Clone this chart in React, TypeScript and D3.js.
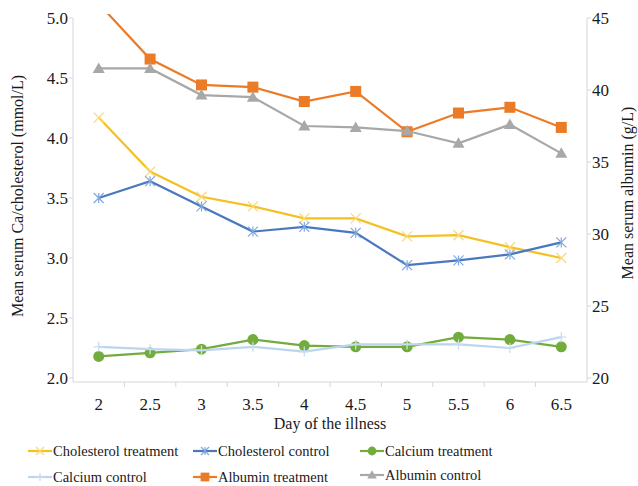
import React, { useEffect, useRef } from 'react';
import * as d3 from 'd3';

const days = ['2', '2.5', '3', '3.5', '4', '4.5', '5', '5.5', '6', '6.5'];
const cholTreatment = [4.17, 3.72, 3.51, 3.43, 3.33, 3.33, 3.18, 3.19, 3.09, 3.0];
const cholControl = [3.5, 3.64, 3.43, 3.22, 3.26, 3.21, 2.94, 2.98, 3.03, 3.13];
const caTreatment = [2.18, 2.21, 2.24, 2.32, 2.27, 2.26, 2.26, 2.34, 2.32, 2.26];
const caControl = [2.26, 2.24, 2.23, 2.26, 2.22, 2.28, 2.28, 2.28, 2.25, 2.34];
const albTreatment = [46.0, 42.15, 40.35, 40.2, 39.2, 39.9, 37.1, 38.4, 38.8, 37.4];
const albControl = [41.5, 41.5, 39.65, 39.5, 37.5, 37.4, 37.15, 36.3, 37.6, 35.6];
const leftTicks = [2.0, 2.5, 3.0, 3.5, 4.0, 4.5, 5.0];
const rightTicks = [20, 25, 30, 35, 40, 45];

type Series = { name: string; values: number[]; color: string; marker: string; axis: 'l' | 'r' };

const series: Series[] = [
  { name: 'Cholesterol treatment', values: cholTreatment, color: '#f5c022', marker: 'x', axis: 'l' },
  { name: 'Cholesterol control', values: cholControl, color: '#4a78bf', marker: 'star', axis: 'l' },
  { name: 'Calcium treatment', values: caTreatment, color: '#72ac3c', marker: 'circle', axis: 'l' },
  { name: 'Calcium control', values: caControl, color: '#bcd4ee', marker: 'plus', axis: 'l' },
  { name: 'Albumin treatment', values: albTreatment, color: '#ec7b27', marker: 'square', axis: 'r' },
  { name: 'Albumin control', values: albControl, color: '#a8a8a8', marker: 'triangle', axis: 'r' },
];

const legendPos = [
  [28, 451], [193, 451], [360, 451],
  [28, 477], [193, 477], [360, 475],
];

const FONT = 'Liberation Serif, Times New Roman, DejaVu Serif, serif';

function drawMarker(g: any, kind: string, x: number, y: number, color: string, small = false) {
  const s = small ? 0.8 : 1;
  if (kind === 'x') {
    const d = 5 * s;
    g.append('path').attr('d', `M${x - d},${y - d}L${x + d},${y + d}M${x - d},${y + d}L${x + d},${y - d}`)
      .attr('stroke', '#f8d97a').attr('stroke-width', 1.3);
  } else if (kind === 'star') {
    const d = 5 * s;
    g.append('path').attr('d', `M${x - d},${y - d}L${x + d},${y + d}M${x - d},${y + d}L${x + d},${y - d}M${x},${y - d}L${x},${y + d}`)
      .attr('stroke', '#7fa7e0').attr('stroke-width', 1.2);
  } else if (kind === 'circle') {
    g.append('circle').attr('cx', x).attr('cy', y).attr('r', 5.5 * s).attr('fill', color);
  } else if (kind === 'plus') {
    const d = 5 * s;
    g.append('path').attr('d', `M${x - d},${y}L${x + d},${y}M${x},${y - d}L${x},${y + d}`)
      .attr('stroke', '#c9dcf1').attr('stroke-width', 1.3);
  } else if (kind === 'square') {
    const d = 5.5 * s;
    g.append('rect').attr('x', x - d).attr('y', y - d).attr('width', 2 * d).attr('height', 2 * d).attr('fill', color);
  } else if (kind === 'triangle') {
    const d = 6 * s;
    g.append('path').attr('d', `M${x},${y - d}L${x + d},${y + d * 0.75}L${x - d},${y + d * 0.75}Z`).attr('fill', color);
  }
}

export default function App() {
  const ref = useRef<SVGSVGElement>(null);

  useEffect(() => {
    const svg = d3.select(ref.current);
    svg.selectAll('*').remove();

    const left = 73, right = 587, top = 18, bottom = 378;

    const x = d3.scaleBand().domain(days).range([left, right]);
    const yL = d3.scaleLinear().domain([2, 5]).range([bottom, top]);
    const yR = d3.scaleLinear().domain([20, 45]).range([bottom, top]);
    const cx = (d: string) => (x(d) as number) + x.bandwidth() / 2;

    svg.append('defs').append('clipPath').attr('id', 'plotclip')
      .append('rect').attr('x', left).attr('y', 14).attr('width', right - left).attr('height', bottom - 14 + 10);

    const txt = (sel: any, size: number) => sel.style('font-family', FONT).attr('font-size', size).attr('fill', '#1a1a1a');

    // axes lines
    const axisColor = '#d6d6d6';
    svg.append('line').attr('x1', left).attr('x2', left).attr('y1', top).attr('y2', bottom + 4).attr('stroke', axisColor);
    svg.append('line').attr('x1', right).attr('x2', right).attr('y1', top).attr('y2', bottom + 4).attr('stroke', axisColor);
    svg.append('line').attr('x1', left).attr('x2', right).attr('y1', bottom + 4).attr('y2', bottom + 4).attr('stroke', axisColor);

    // x ticks at band boundaries
    days.forEach((d, i) => {
      if (i === 0) return;
      const bx = x(d) as number;
      svg.append('line').attr('x1', bx).attr('x2', bx).attr('y1', bottom + 4).attr('y2', bottom + 9).attr('stroke', axisColor);
    });
    days.forEach((d) => {
      txt(svg.append('text').attr('x', cx(d)).attr('y', bottom + 32).attr('text-anchor', 'middle'), 17).text(d);
    });

    leftTicks.forEach((t) => {
      svg.append('line').attr('x1', left - 4).attr('x2', left).attr('y1', yL(t)).attr('y2', yL(t)).attr('stroke', axisColor);
      txt(svg.append('text').attr('x', left - 5).attr('y', yL(t)).attr('dy', '0.35em').attr('text-anchor', 'end'), 17)
        .text(t.toFixed(1));
    });
    rightTicks.forEach((t) => {
      svg.append('line').attr('x1', right).attr('x2', right + 4).attr('y1', yR(t)).attr('y2', yR(t)).attr('stroke', axisColor);
      txt(svg.append('text').attr('x', right + 5).attr('y', yR(t)).attr('dy', '0.35em').attr('text-anchor', 'start'), 17)
        .text(t);
    });

    txt(svg.append('text').attr('transform', 'translate(23,196) rotate(-90)').attr('text-anchor', 'middle'), 16)
      .text('Mean serum Ca/cholesterol (mmol/L)');
    txt(svg.append('text').attr('transform', 'translate(633,193) rotate(-90)').attr('text-anchor', 'middle'), 16)
      .text('Mean serum albumin (g/L)');
    txt(svg.append('text').attr('x', (left + right) / 2).attr('y', 429).attr('text-anchor', 'middle'), 16)
      .text('Day of the illness');

    const plot = svg.append('g').attr('clip-path', 'url(#plotclip)');
    series.forEach((s) => {
      const ys = s.axis === 'l' ? yL : yR;
      const line = d3.line<number>().x((_, i) => cx(days[i])).y((v) => ys(v));
      plot.append('path').datum(s.values).attr('d', line).attr('fill', 'none')
        .attr('stroke', s.color).attr('stroke-width', 2.2);
      s.values.forEach((v, i) => drawMarker(plot, s.marker, cx(days[i]), ys(v), s.color));
    });

    // legend
    series.forEach((s, i) => {
      const [lx, ly] = legendPos[i];
      const g = svg.append('g');
      g.append('line').attr('x1', lx).attr('x2', lx + 24).attr('y1', ly).attr('y2', ly)
        .attr('stroke', s.color).attr('stroke-width', 2.2);
      drawMarker(g, s.marker, lx + 12, ly, s.color, true);
      txt(g.append('text').attr('x', lx + 25).attr('y', ly).attr('dy', '0.35em'), 14.5).text(s.name);
    });
  }, []);

  return <svg ref={ref} width={638} height={486} style={{ position: 'absolute', left: 0, top: 0 }} />;
}
